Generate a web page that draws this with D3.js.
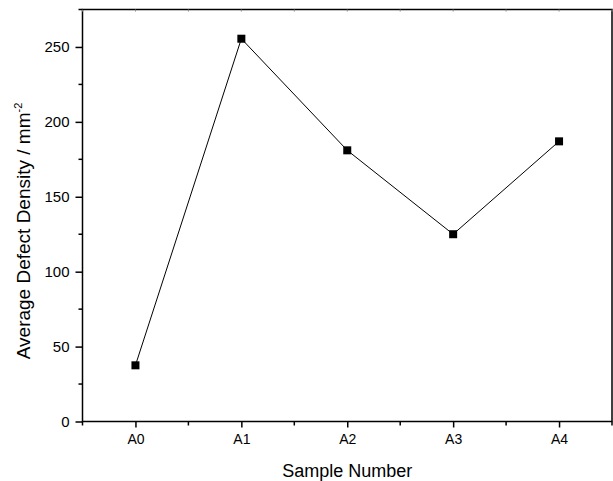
<!DOCTYPE html>
<html>
<head>
<meta charset="utf-8">
<script src="https://cdn.jsdelivr.net/npm/d3@7"></script>
<style>
  body { margin: 0; background: #fff; }
  svg { display: block; font-family: "Liberation Sans", Arial, sans-serif; }
</style>
</head>
<body>
<div id="chart"></div>
<script>
// data
const samples = ['A0', 'A1', 'A2', 'A3', 'A4'];
const density = [37.5, 255.5, 181, 125, 187];
const yTicks = [0, 50, 100, 150, 200, 250];
const yMinorTicks = [25, 75, 125, 175, 225, 275];

const W = 613, H = 481;
const margin = { top: 9.5, right: 1, bottom: 59.5, left: 82.5 };
const innerW = W - margin.left - margin.right;
const innerH = H - margin.top - margin.bottom;

const svg = d3.select('#chart').append('svg')
    .attr('width', W)
    .attr('height', H);

const g = svg.append('g')
    .attr('transform', `translate(${margin.left},${margin.top})`);

const x = d3.scalePoint().domain(samples).range([0, innerW]).padding(0.5);
const y = d3.scaleLinear().domain([0, 275]).range([innerH, 0]);

// minor x ticks sit halfway between samples (and at the frame edges)
const step = x.step();
const xMinor = d3.range(samples.length + 1).map(i => i * step);

// frame
g.append('rect')
    .attr('x', 0).attr('y', 0)
    .attr('width', innerW).attr('height', innerH)
    .attr('fill', 'none')
    .attr('stroke', '#000')
    .attr('stroke-width', 1.5);

// bottom axis
const xAxis = g.append('g')
    .attr('transform', `translate(0,${innerH})`)
    .call(d3.axisBottom(x).tickSize(6).tickPadding(7));
xAxis.select('.domain').remove();
xAxis.selectAll('line').attr('stroke-width', 1.5);
xAxis.selectAll('text').style('font-size', '14px').attr('fill', '#000');
g.append('g')
    .selectAll('line')
    .data(xMinor)
    .join('line')
    .attr('x1', d => d).attr('x2', d => d)
    .attr('y1', innerH).attr('y2', innerH + 4)
    .attr('stroke', '#000').attr('stroke-width', 1.5);

// top axis, tiny inward ticks
g.append('g')
    .selectAll('line')
    .data(samples.map(s => x(s)).concat(xMinor))
    .join('line')
    .attr('x1', d => d).attr('x2', d => d)
    .attr('y1', 0).attr('y2', 2)
    .attr('stroke', '#888').attr('stroke-width', 1);

// left axis
const yAxis = g.append('g')
    .call(d3.axisLeft(y).tickValues(yTicks).tickSize(7).tickPadding(6));
yAxis.select('.domain').remove();
yAxis.selectAll('line').attr('stroke-width', 1.5);
yAxis.selectAll('text').style('font-size', '15px').attr('fill', '#000');
g.append('g')
    .selectAll('line')
    .data(yMinorTicks.filter(v => y(v) >= 0))
    .join('line')
    .attr('x1', -4).attr('x2', 0)
    .attr('y1', d => y(d)).attr('y2', d => y(d))
    .attr('stroke', '#000').attr('stroke-width', 1.5);

// series line + square markers
const line = d3.line()
    .x((d, i) => x(samples[i]))
    .y(d => y(d));

g.append('path')
    .datum(density)
    .attr('d', line)
    .attr('fill', 'none')
    .attr('stroke', '#000')
    .attr('stroke-width', 1);

const sq = 8;
g.append('g')
    .selectAll('rect')
    .data(density)
    .join('rect')
    .attr('x', (d, i) => x(samples[i]) - sq / 2)
    .attr('y', d => y(d) - sq / 2)
    .attr('width', sq)
    .attr('height', sq)
    .attr('fill', '#000');

// axis titles
svg.append('text')
    .attr('x', margin.left + innerW / 2)
    .attr('y', 476.5)
    .attr('text-anchor', 'middle')
    .style('font-size', '18px')
    .text('Sample Number');

const yTitle = svg.append('text')
    .attr('transform', 'translate(30,231) rotate(-90)')
    .attr('text-anchor', 'middle')
    .style('font-size', '19px');
yTitle.append('tspan').text('Average Defect Density / mm');
yTitle.append('tspan')
    .attr('dy', -8)
    .style('font-size', '11px')
    .text('-2');
</script>
</body>
</html>
